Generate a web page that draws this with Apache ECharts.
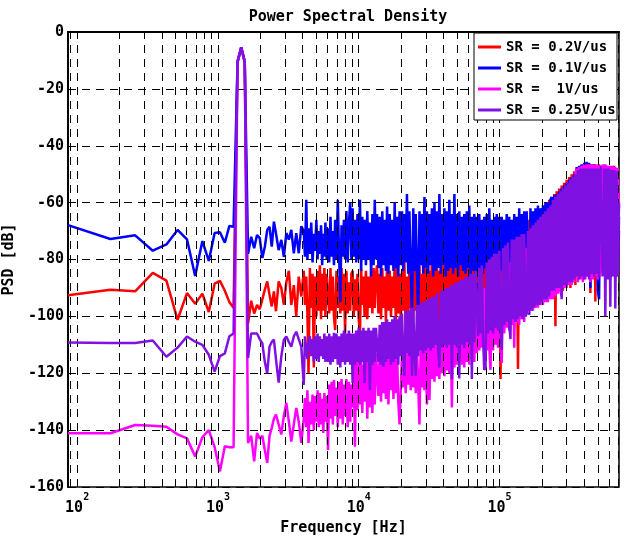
<!DOCTYPE html>
<html><head><meta charset="utf-8">
<script src="https://cdn.jsdelivr.net/npm/echarts@6/dist/echarts.min.js"></script>
<style>html,body{margin:0;padding:0;background:#fff}#c{width:633px;height:538px}</style>
</head><body><div id="c"></div>
<script>
// Frequency grid (Hz) shared by all traces
const freqHz = [
  86.13, 172.3, 258.4, 344.5, 430.7, 516.8, 602.9, 689.1, 775.2, 861.3,
  947.5, 1033.6, 1119.7, 1205.9, 1292.0, 1378.1, 1464.3, 1550.4, 1636.5, 1722.7,
  1808.8, 1894.9, 1981.1, 2067.2, 2153.3, 2239.5, 2325.6, 2411.7, 2497.9, 2584.0,
  2700, 2820, 2940, 3060, 3190, 3320, 3460, 3600, 3750, 3910,
  4070, 4150, 4240, 4320, 4400, 4500, 4600, 4700, 4800, 4900, 5000, 5100, 5200, 5300, 5400, 5500, 5600, 5700, 5800, 5920,
  6050, 6170, 6300, 6420, 6550, 6670, 6800, 6950, 7100, 7250, 7400, 7550, 7700, 7850, 8000, 8170, 8350, 8520, 8700, 8870,
  9050, 9220, 9400, 9600, 9800, 10000, 10200, 10400, 10600, 10800, 11000, 11250, 11500, 11750, 12000, 12250, 12500, 12750, 13000, 13250,
  13500, 13800, 14100, 14400, 14700, 15000, 15300, 15600, 15900, 16250, 16600, 16950, 17300, 17650, 18000, 18350, 18700, 19100, 19500, 19900,
  20300, 20700, 21100, 21550, 22000, 22450, 22900, 23400, 23900, 24400, 24900, 25400, 25900, 26450, 27000, 27550, 28100, 28700, 29300, 29900,
  30500, 31150, 31800, 32450, 33100, 33800, 34500, 35200, 35900, 36650, 37400, 38200, 39000, 39800, 40600, 41450, 42300, 43150, 44000, 44950,
  45900, 46850, 47800, 48800, 49800, 50800, 51800, 52900, 54000, 55100, 56200, 57400, 58600, 59800, 61000, 62300, 63600, 64900, 66200, 67600,
  69000, 70400, 71800, 73300, 74800, 76350, 77900, 79550, 81200, 82900, 84600, 86350, 88100, 89950, 91800, 93700, 95600, 97600, 99600, 101650,
  103700, 105850, 108000, 110250, 112500, 114850, 117200, 119650, 122100, 124650, 127200, 129850, 132500, 135250, 138000, 140850, 143700, 146700, 149700, 152850,
  156000, 159250, 162500, 165850, 169200, 172750, 176300, 179950, 183600, 187450, 191300, 195300, 199300, 203450, 207600, 211900, 216200, 220700, 225200, 229900,
  234600, 239500, 244400, 249500, 254600, 259900, 265200, 270700, 276200, 281950, 287700, 293700, 299700, 305950, 312200, 318700, 325200, 332000, 338800, 345850,
  352900, 360250, 367600, 375250, 382900, 390850, 398800, 407100, 415400, 424050, 432700, 441700, 450700, 460100, 469500, 479300, 489100, 499250, 509400, 520000,
  530600, 541650, 552700, 564200, 575700, 587700, 599700, 612200, 624700, 637700, 650700, 664250, 677800, 691700, 705600
];

// PSD [dB], SR = 0.2V/us
const psdRed = [
  -92.6, -90.6, -91.2, -84.7, -87.4, -101.2, -91.8, -95.6, -92.0, -98.5,
  -88.5, -87.5, -91.0, -95.0, -97.0, -10.5, -5.4, -10.5, -102.5, -94.5,
  -99.0, -96.0, -97.5, -94.0, -90.6, -87.7, -92.4, -96.5, -91.2, -98.2,
  -87.7, -90.0, -95.9, -88.0, -84.0, -96.0, -89.0, -100.0, -86.0, -93.0,
  -84, -96, -86, -99, -120, -83, -97, -85, -118, -86, -100, -84, -98, -82, -101, -85, -98, -83, -100, -85,
  -85, -99, -83, -98, -86, -100, -104.8, -84, -97, -86, -99, -83, -98, -85, -106, -84, -99, -88, -98, -85,
  -84, -100, -87, -98, -85, -101, -107, -83, -96, -86, -100, -84, -101, -86, -97, -84, -99, -83, -97, -85,
  -82, -99, -85, -101, -83, -97, -86, -102, -80, -98, -84, -100, -86, -97, -81, -103, -83, -99, -85, -101,
  -84, -98, -81, -104, -86, -99, -82, -97, -85, -101, -80, -98, -84, -105, -82, -99, -85, -97, -81, -100,
  -80, -100, -84, -97, -79, -102, -83, -98, -81, -103, -84, -99, -80, -97, -82, -101, -79, -98, -83, -100,
  -80, -99, -78, -101, -81, -98, -77, -102, -80, -99, -79, -104, -78, -98, -81, -100, -77, -99, -79, -101,
  -76, -100, -78, -102, -75, -99, -77, -104, -76, -100, -75, -101, -77, -99, -74, -108, -75, -100, -74, -122,
  -74, -100, -73, -103, -72, -99, -71, -101, -72, -100, -70, -98, -71, -118.5, -69, -99, -70, -98, -68, -97,
  -67, -97, -66, -95, -65, -96, -64, -94, -64, -96, -63, -95, -62, -94, -61, -93, -60, -94, -59, -92,
  -58, -92, -57, -103.5, -56, -91, -55, -90, -54, -91, -53, -90, -52, -89, -51, -90, -50, -88, -49, -89,
  -48, -86, -47.5, -85, -47, -84, -46.5, -85, -46, -86, -46.5, -91.8, -47, -85, -46.5, -94.8, -47, -85, -46.5, -84,
  -47, -84, -47.5, -85, -47, -84, -48, -86, -47.5, -85, -47, -86, -48, -84, -70
];

// SR = 0.1V/us
const psdBlue = [
  -67.9, -72.8, -71.5, -76.9, -74.7, -69.6, -72.9, -85.8, -73.5, -80.5,
  -70.7, -70.4, -74.1, -68.2, -68.5, -10.5, -5.4, -10.5, -78.0, -72.0,
  -76.0, -71.4, -72.5, -79.5, -75.5, -69.6, -68.5, -75.5, -66.7, -70.8,
  -76.7, -73.1, -79.1, -70.7, -73.0, -69.6, -77.8, -70.7, -77.8, -68.3,
  -70, -79, -59, -80, -69, -78, -67, -81, -71, -77, -66, -80, -70, -78, -68, -82, -71, -79, -67, -80,
  -69, -81, -65, -79, -70, -82, -66, -80, -59, -78, -95, -68, -79, -66, -80, -63, -81, -67, -60, -80,
  -62, -79, -66, -81, -64, -80, -59, -84, -65, -80, -66, -82, -63, -80, -67, -86, -64, -82, -59, -80,
  -64, -83, -65, -86, -63, -82, -66, -84, -61.4, -85, -64, -82, -66, -84, -60, -83, -65, -86, -63, -82,
  -63, -84, -64, -81, -57, -85, -63, -83, -100, -62, -84, -64, -83, -102, -63, -82, -64, -85, -58, -83,
  -63, -85, -64, -82, -62, -86, -60, -84, -63, -83, -57, -85, -64, -82, -62, -86, -63, -84, -59, -83,
  -64, -85, -57, -83, -64, -86, -63, -82, -65, -84, -64, -85, -63, -83, -61, -86, -65, -84, -64, -85,
  -65, -86, -64, -84, -66, -85, -65, -83, -64, -86, -62, -84, -66, -85, -65, -83, -64, -86, -65, -84,
  -65, -85, -66, -84, -64, -86, -65, -83, -66, -85, -64, -84, -65, -86, -62, -85, -64, -84, -63, -86,
  -63, -84, -99.4, -62, -84, -63, -85, -62, -83, -61, -84, -62, -85, -61, -83, -60, -84, -60, -82, -59,
  -58, -82, -57.5, -81, -57, -82, -56, -80, -55, -82, -54, -81, -53, -80, -52, -82, -51, -80, -50, -81,
  -47.5, -82.5, -47, -84, -46.5, -83, -46, -84, -45.6, -83, -46, -90, -46.5, -84, -46.5, -85, -47, -91, -94, -47,
  -47, -85, -47.5, -84, -47, -86, -47.5, -85, -48, -84, -47.5, -86, -48, -85, -65
];

// SR = 1V/us
const psdMagenta = [
  -141.1, -141.1, -138.2, -138.5, -138.8, -141.5, -142.9, -149.3, -142.5, -140.0,
  -146.0, -154.5, -145.7, -146.0, -146.0, -10.5, -5.4, -10.5, -144.5, -142.0,
  -151.0, -141.0, -143.0, -142.0, -147.0, -151.5, -142.0, -139.2, -136.0, -134.5,
  -138.0, -141.5, -135.0, -130.4, -137.0, -144.0, -138.0, -132.2, -137.0, -144.5,
  -136, -128.7, -139, -126, -144.5, -130, -138, -127.5, -140, -128, -137, -126, -139, -127, -138, -129, -141, -127, -137, -128,
  -147, -124, -136, -123, -138, -122.4, -135, -125, -139, -123, -136, -122, -138, -124, -135, -122, -139, -123, -137, -124,
  -132, -116, -145.8, -115, -133, -114, -131, -116, -134, -117, -130, -115, -136, -114, -132, -113, -134, -115, -131, -113,
  -113, -128, -112, -130, -113, -127, -114, -129, -112, -131, -113, -126, -112, -129, -113, -127, -112, -130, -138, -126,
  -112, -125, -111, -127, -113, -124, -110, -126, -112, -125, -111, -127, -110, -124, -138, -111, -125, -112, -126, -110,
  -131, -110, -129.4, -109, -122, -108, -123, -107, -121, -106, -122, -106, -120, -105, -121, -105, -119, -104, -120, -104,
  -132, -100, -118, -99, -117, -98, -116, -98, -117, -97, -118, -96, -116, -95, -117, -95, -115, -94, -116, -93,
  -113, -92, -112, -91, -111, -90, -113, -90, -112, -89, -111, -118.8, -88, -112, -87, -110, -87, -111, -86, -109,
  -116.4, -84, -106, -83, -104, -82, -105, -81, -103, -80, -111, -80, -102, -79, -103, -78, -101, -78, -102, -77,
  -76, -99, -75, -98, -74, -98, -73, -97, -72, -97, -71, -96, -70, -96, -69, -95, -68, -95, -67, -94,
  -62, -94, -61, -93, -60, -92, -58, -91, -93, -57, -90, -56, -90, -54, -89, -53, -89, -51, -88, -50,
  -48, -88, -47.5, -87, -47, -88, -46.5, -87, -46.5, -86, -46.5, -88, -46.5, -87, -46.5, -86, -46.5, -87, -47, -86,
  -86, -46.5, -85, -46.5, -86, -47, -85, -47, -86, -47, -85, -47.5, -86, -48, -62
];

// SR = 0.25V/us
const psdPurple = [
  -109.2, -109.4, -109.4, -108.5, -114.2, -111.0, -107.1, -108.9, -110.0, -113.5,
  -119.4, -114.0, -113.0, -107.0, -106.0, -10.5, -5.4, -10.5, -114.6, -106.0,
  -106.0, -106.0, -108.0, -109.5, -116.0, -120.0, -110.6, -109.0, -108.2, -115.0,
  -123.3, -114.0, -108.2, -107.1, -109.0, -110.7, -107.0, -105.4, -108.0, -110.7,
  -124.1, -107, -106.5, -115, -110, -107, -114, -108, -116, -107, -115, -106, -116, -107, -114, -108, -115, -106, -116, -107,
  -116, -106, -117, -107, -116, -105.8, -115, -106, -117, -107, -118, -106, -116, -105, -117, -106, -116, -105, -117, -106,
  -123.4, -106, -117, -105, -116, -104, -117, -105, -116, -104, -123.4, -105, -116, -104, -125.9, -105, -117, -104, -116, -104,
  -103.6, -116, -103, -117, -102, -117.7, -102, -116, -101, -115, -102, -117, -101, -116, -100, -115, -101, -117, -100, -114,
  -99, -113, -121, -98, -113, -98, -114, -97, -121, -97, -113, -121, -96, -114, -96, -112, -95, -113, -95, -112,
  -94, -111, -94, -112, -93, -111, -93, -110, -92, -112, -118, -91, -111, -91, -110, -90, -111, -90, -110, -89,
  -122, -89, -110, -88, -111, -88, -121.8, -87, -110, -87, -111, -86, -109, -86, -110, -85, -122, -85, -109, -84,
  -84, -107, -83, -106, -82, -107, -118.8, -118, -81, -106, -80, -105, -79, -106, -78, -104, -78, -105, -77, -104,
  -111.8, -76, -103, -75, -102, -74, -103, -108, -73, -101, -73, -102, -72, -101, -72, -100, -71, -101, -71, -100,
  -99, -70, -98, -69, -98, -68, -97, -67, -96, -66, -96, -65, -95, -64, -94, -63, -94, -62, -93, -61,
  -91, -59, -91, -58, -90, -57, -90, -56, -94, -55, -89, -54, -89, -53, -88, -52, -88, -51, -87, -50,
  -86, -48.5, -87, -48, -86, -48, -87, -48, -86, -48, -87, -48, -85, -48, -86, -48, -85, -48, -86, -48,
  -48, -86, -48, -100, -48, -87, -48, -96.6, -48.5, -86, -48.5, -97.2, -49, -86, -60
];

const seriesNames = ['SR = 0.2V/us', 'SR = 0.1V/us', 'SR =  1V/us', 'SR = 0.25V/us'];
const seriesColors = ['#ff0000', '#0000ff', '#ff00ff', '#7f12e2'];
// vertical grid lines (log minor + major)
const gridFreqs = [90,
  100, 200, 300, 400, 500, 600, 700, 800, 900,
  1000, 2000, 3000, 4000, 5000, 6000, 7000, 8000, 9000,
  10000, 20000, 30000, 40000, 50000, 60000, 70000, 80000, 90000,
  100000, 200000, 300000, 400000, 500000, 600000, 700000];

const allVals = [psdRed, psdBlue, psdMagenta, psdPurple];
allVals.forEach((v, i) => {
  if (v.length !== freqHz.length) throw new Error('length mismatch in series ' + i + ': ' + v.length + ' vs ' + freqHz.length);
});

const FONT = '"DejaVu Sans Mono","Liberation Mono",monospace';
const FS = 15;
const DASH = [8, 6];

function pairs(vals) { return freqHz.map((f, i) => [f, vals[i]]); }

const chart = echarts.init(document.getElementById('c'), null, { renderer: 'canvas' });

const series = [{
  type: 'line', name: '_grid', data: [[1000, -500]], symbol: 'none', silent: true,
  lineStyle: { opacity: 0 }, z: 1,
  markLine: {
    silent: true, symbol: ['none', 'none'], label: { show: false }, animation: false,
    lineStyle: { color: '#000', width: 1, type: DASH, opacity: 1 },
    emphasis: { disabled: true },
    data: gridFreqs.map(f => ({ xAxis: f }))
  }
}];
allVals.forEach((v, i) => {
  series.push({
    type: 'line', name: seriesNames[i], data: pairs(v), symbol: 'none', showSymbol: false,
    color: seriesColors[i], lineStyle: { color: seriesColors[i], width: 2.5 },
    emphasis: { disabled: true }, z: 2 + i, clip: true, animation: false, sampling: null
  });
});

chart.setOption({
  animation: false,
  backgroundColor: '#fff',
  title: {
    text: 'Power Spectral Density', left: 343, top: 5, textAlign: 'center',
    textStyle: { fontFamily: FONT, fontWeight: 'bold', fontSize: FS, color: '#000' }
  },
  grid: { left: 68, right: 14, top: 32, bottom: 51, show: true, borderColor: '#000', borderWidth: 1.5,
    backgroundColor: 'transparent', outerBoundsMode: 'none', containLabel: false },
  legend: {
    data: seriesNames, orient: 'vertical', left: 474, top: 33, padding: [4, 4, 4, 4],
    icon: 'rect', itemWidth: 23, itemHeight: 3, itemGap: 1, selectedMode: false,
    textStyle: { fontFamily: FONT, fontWeight: 'bold', fontSize: 14, color: '#000', lineHeight: 20 },
    z: 10
  },
  graphic: [{
    type: 'rect', z: 9, silent: true,
    shape: { x: 474, y: 33, width: 143, height: 87 },
    style: { fill: '#fff', stroke: '#000', lineWidth: 1 }
  }],
  xAxis: {
    type: 'log', logBase: 10, min: 86.13, max: 705600,
    name: 'Frequency [Hz]', nameLocation: 'middle', nameGap: 28,
    nameTextStyle: { fontFamily: FONT, fontWeight: 'bold', fontSize: FS, color: '#000' },
    axisLine: { show: true, lineStyle: { color: '#000', width: 2 } },
    axisTick: { show: false }, splitLine: { show: false }, minorTick: { show: false },
    axisLabel: {
      margin: 5, color: '#000',
      formatter: function (v) {
        const e = Math.log10(v), r = Math.round(e);
        return Math.abs(e - r) < 1e-6 ? '{b|10}{s|' + r + '}' : '';
      },
      rich: {
        b: { fontFamily: FONT, fontWeight: 'bold', fontSize: 15, lineHeight: 24, verticalAlign: 'bottom', color: '#000' },
        s: { fontFamily: FONT, fontWeight: 'bold', fontSize: 10, lineHeight: 12, verticalAlign: 'top', color: '#000' }
      }
    }
  },
  yAxis: {
    type: 'value', min: -160, max: 0, interval: 20,
    name: 'PSD [dB]', nameLocation: 'middle', nameGap: 38,
    nameTextStyle: { fontFamily: FONT, fontWeight: 'bold', fontSize: FS, color: '#000' },
    axisLine: { show: true, lineStyle: { color: '#000', width: 2 } },
    axisTick: { show: false },
    axisLabel: { margin: 4, color: '#000', fontFamily: FONT, fontWeight: 'bold', fontSize: FS },
    splitLine: { show: true, lineStyle: { color: '#000', width: 1, type: DASH } }
  },
  series: series
});
</script></body></html>
